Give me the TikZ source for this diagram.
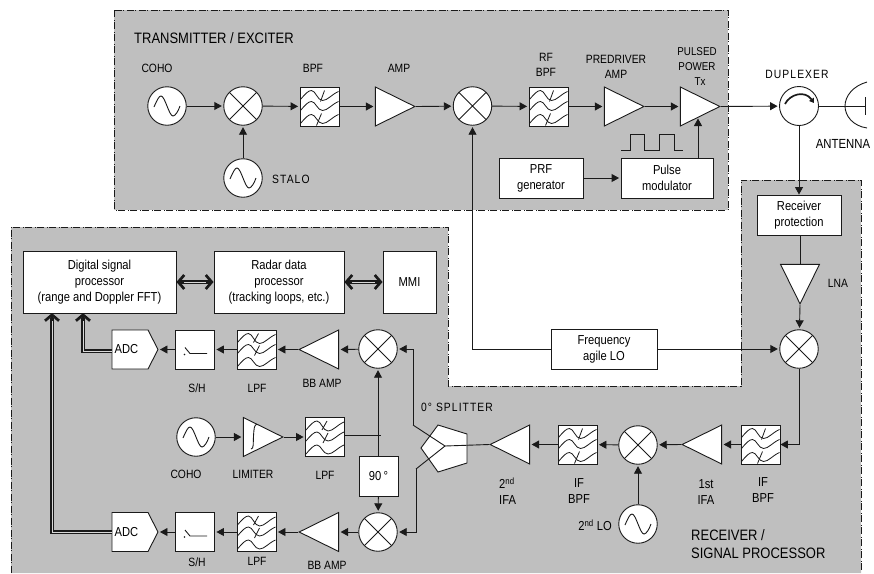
\documentclass[tikz,border=0pt]{standalone}
\usepackage{fontspec}
\setmainfont[FakeStretch=0.86]{Liberation Sans}
\usetikzlibrary{arrows.meta,shapes.geometric,shapes.symbols}
\definecolor{panel}{HTML}{BFBFBF}
\definecolor{ink}{HTML}{1A1A1A}
\tikzset{
  ln/.style={line width=0.9pt,draw=ink},
  arr/.style={ln,-{Triangle[length=7.5pt,width=8pt]},shorten >=1.5pt},
  dbl/.style={draw=ink,line width=1.2pt,double=panel!60!white,double distance=0.7pt},
  barb/.style={draw=ink,line width=2.4pt,-{Straight Barb[length=6pt,width=14pt,line width=2.7pt]}},
  edge panel/.style={draw=ink,line width=1pt,dash pattern=on 7pt off 3pt on 1pt off 1pt},
  box/.style={ln,draw,fill=white,inner sep=0pt,align=center,font=\boxfont},
  mixer/.style={ln,circle,draw,fill=white,minimum size=38.5pt,inner sep=0pt,
    path picture={\draw[ln] (path picture bounding box.north west)--(path picture bounding box.south east)
      (path picture bounding box.north east)--(path picture bounding box.south west);}},
  osc/.style={ln,circle,draw,fill=white,minimum size=38.5pt,inner sep=0pt,
    path picture={\draw[ln,shift={(path picture bounding box.center)}]
      (-13,1) .. controls (-10,-6) and (-8,-10) .. (-6,-10) .. controls (-2,-10) and (2,10) .. (6,10)
      .. controls (8,10) and (11,6) .. (13,0);}},
  circulator/.style={ln,circle,draw,fill=white,minimum size=39pt,inner sep=0pt,
    path picture={\draw[line width=1.7pt,draw=ink,-{Triangle[length=4.5pt,width=5.5pt]},shift={(path picture bounding box.center)}]
      (-14,-2) .. controls (-9,-12) and (6,-16) .. (15,-3);}},
  filterbox/.style={ln,draw,fill=white,minimum size=39pt,inner sep=0pt},
  bpf/.style={filterbox,path picture={\begin{scope}[shift={(path picture bounding box.center)}]
      \wavelines
      \draw[ln,line width=.8pt] (1,-5)--(5,-16) (-3,19)--(2,7);
      \end{scope}}},
  lpf/.style={filterbox,path picture={\begin{scope}[shift={(path picture bounding box.center)}]
      \wavelines
      \draw[ln,line width=.8pt] (-3,-7)--(2,-16) (-2,6)--(3,-4);
      \end{scope}}},
  sh/.style={filterbox,path picture={\begin{scope}[shift={(path picture bounding box.center)}]
      \fill[ink] (-10.5,5) circle (0.9);
      \draw[ln] (-10,-2)--(-5,4)--(12,4);
      \end{scope}}},
  amp/.style={ln,isosceles triangle,isosceles triangle stretches,draw,fill=white,
    minimum width=39pt,minimum height=39.5pt,inner sep=0pt},
  ampe/.style={amp,shape border rotate=0,anchor=apex},
  ampw/.style={amp,shape border rotate=180,anchor=apex},
  amps/.style={amp,shape border rotate=-90,anchor=apex},
  adc/.style={ln,signal,signal to=east,draw,fill=white,minimum width=46pt,minimum height=39pt,
    inner sep=0pt,signal pointer angle=126,font=\boxfont},
  lbl/.style={inner sep=0pt,align=center,font=\lblfont},
  lblr/.style={lbl,font=\rxfont},
  spaced/.style={lbl,font=\spacedfont},
  title/.style={inner sep=0pt,anchor=west,align=left,font=\titlefont},
}
\newcommand{\lblfont}{\fontsize{12}{15.6}\selectfont}
\newcommand{\rxfont}{\fontsize{13}{16}\selectfont}
\newcommand{\boxfont}{\fontsize{13}{16}\selectfont}
\newcommand{\titlefont}{\fontsize{15.1}{18}\selectfont}
\newcommand{\spacedfont}{\fontsize{12}{16}\selectfont\addfontfeature{LetterSpace=9}}
\newcommand{\wavelines}{\draw[ln,line width=.8pt]
  (-19,-7) .. controls (-14,-13) and (-11,-16) .. (-8,-16) .. controls (-4,-16) and (-2,-6) .. (3,-6) .. controls (8,-6) and (12,-12) .. (19,-15)
  (-19,4) .. controls (-14,-2) and (-11,-5) .. (-8,-5) .. controls (-4,-5) and (-2,4) .. (3,4) .. controls (8,4) and (12,-2) .. (19,-5)
  (-19,17) .. controls (-14,11) and (-11,8) .. (-8,8) .. controls (-4,8) and (-2,17) .. (3,17) .. controls (8,17) and (12,11) .. (19,8);}
\begin{document}
\begin{tikzpicture}[x=1pt,y=-1pt]
\useasboundingbox (0,0) rectangle (874,573);
% panels
\fill[panel] (114,10) rectangle (728,210);
\draw[edge panel] (114,10) rectangle (728,210);
\fill[panel] (11,227)--(448,227)--(448,386)--(741,386)--(741,180)--(861,180)--(861,573)--(11,573)--cycle;
\draw[edge panel] (11,573)--(11,227)--(448,227)--(448,386)--(741,386)--(741,180)--(861,180)--(861,573);
% transmitter
\node[osc] (coho1) at (167,106) {};
\node[mixer] (mix1) at (243,106) {};
\node[bpf] (bpf1) at (319.5,106.5) {};
\node[ampe] (amp1) at (416,106.5) {};
\node[mixer] (mix2) at (472.5,106) {};
\node[bpf] (bpf2) at (548.5,106.5) {};
\node[ampe] (amp2) at (645,106.5) {};
\node[ampe] (amp3) at (721,106.5) {};
\node[osc] (stalo) at (243,178) {};
\node[box,minimum width=84pt,minimum height=40pt] (prf) at (541,178) {PRF\\generator};
\node[box,minimum width=92pt,minimum height=40pt] (pmod) at (667,178) {Pulse\\modulator};
\node[circulator] (dup) at (799,106) {};
% antenna
\coordinate (antL) at (845,106);
\coordinate (antF) at (865,106);
\draw[ln] (867,82) .. controls (853,86) and (845,96) .. (antL) .. controls (845,116) and (853,126) .. (867,128);
\draw[ln] (dup.east) -- (antF);
\draw[ln] (865,97)--(865,115);
% pulse wave
\draw[ln] (621,150)--(630,150)--(630,134)--(644,134)--(644,150)--(659,150)--(659,134)--(674,134)--(674,150)--(683,150);
% receiver
\node[box,minimum width=84pt,minimum height=40pt] (prot) at (799,215) {Receiver\\protection};
\node[amps] (lna) at (800,305) {};
\node[mixer] (mix3) at (799,349) {};
\node[box,minimum width=106pt,minimum height=40pt] (lo) at (604,349) {Frequency\\agile LO};
\node[bpf] (ifb1) at (760.5,444.5) {};
\node[ampw] (ifa1) at (681,444.5) {};
\node[mixer] (mix4) at (638,445) {};
\node[bpf] (ifb2) at (577.5,444.5) {};
\node[ampw] (ifa2) at (489,444.5) {};
\node[osc] (lo2) at (638,524) {};
% splitter
\coordinate (sc) at (445,446);
\coordinate (sa) at (413,425);
\coordinate (sb) at (416,469);
\filldraw[ln,fill=white] (421,448)--(438,425)--(467,434)--(467,463)--(438,472)--cycle;
\draw[ln] (sa)--(sc)--(sb);
\draw[ln] (sc)--(ifa2.apex);
% upper I chain
\node[mixer] (mixi) at (378,349) {};
\node[ampw] (bbi) at (298,349.5) {};
\node[lpf] (lpfi) at (256.5,349.5) {};
\node[sh] (shi) at (195,349.5) {};
\node[adc] (adci) at (130,349.5) {ADC\hspace*{7pt}};
% lower Q chain
\node[mixer] (mixq) at (378,532) {};
\node[ampw] (bbq) at (298,532) {};
\node[lpf] (lpfq) at (256.5,532) {};
\node[sh] (shq) at (195,532) {};
\node[adc] (adcq) at (130,532) {ADC\hspace*{7pt}};
% centre
\node[osc] (coho2) at (196,437) {};
\node[ampe] (lim) at (284,437) {};
\node[lpf] (lpfc) at (325,437) {};
\node[box,minimum width=39pt,minimum height=40pt] (ph) at (378.5,476) {90\,°};
\draw[ln] (251,449) .. controls (254,449) and (253,443) .. (253.5,436) .. controls (254,429) and (254,425) .. (257,424);
% processors
\node[box,minimum width=153pt,minimum height=62pt] (dsp) at (99.5,282) {Digital signal\\processor\\(range and Doppler FFT)};
\node[box,minimum width=130pt,minimum height=62pt] (rdp) at (279,282) {Radar data\\processor\\(tracking loops, etc.)};
\node[box,minimum width=53pt,minimum height=62pt] (mmi) at (409.5,282) {MMI};
% connectors
\draw[arr] (coho1)--(mix1);
\draw[arr] (mix1)--(bpf1);
\draw[arr] (bpf1)--(amp1.lower side);
\draw[arr] (amp1.apex)--(mix2);
\draw[arr] (mix2)--(bpf2);
\draw[arr] (bpf2)--(amp2.lower side);
\draw[arr] (amp2.apex)--(amp3.lower side);
\draw[arr] (amp3.apex)--(dup);
\draw[arr] (stalo)--(mix1);
\draw[arr] (prf)--(pmod);
\coordinate (txin) at (698,118.5);
\draw[arr,shorten >=0pt] (pmod.north -| txin)--(txin);
\draw[arr,shorten >=0pt] (dup.south)--(prot.north -| dup.south);
\draw[ln] (prot.south -| lna.apex)--(lna.lower side);
\draw[arr] (lna.apex)--(mix3);
\draw[arr] (lo)--(mix3);
\draw[arr] (lo.west)-|(mix2);
\draw[arr,shorten >=0pt] (mix3.south)|-(ifb1.east);
\draw[arr] (ifb1)--(ifa1.lower side);
\draw[arr] (ifa1.apex)--(mix4);
\draw[arr] (mix4)--(ifb2);
\draw[arr] (ifb2)--(ifa2.lower side);
\draw[arr] (lo2)--(mix4);
\draw[arr] (sa)|-(mixi);
\draw[arr] (sb)|-(mixq);
\draw[arr] (mixi)--(bbi.lower side);
\draw[arr] (bbi.apex)--(lpfi);
\draw[arr] (lpfi)--(shi);
\draw[arr] (shi)--(adci.east);
\draw[arr] (mixq)--(bbq.lower side);
\draw[arr] (bbq.apex)--(lpfq);
\draw[arr] (lpfq)--(shq);
\draw[arr] (shq)--(adcq.east);
\draw[arr] (coho2)--(lim.lower side);
\draw[arr] (lim.apex)--(lpfc);
\coordinate (tap) at (381,435);
\draw[ln] (lpfc.east |- tap)--(tap);
\draw[arr] (ph.north -| mixi)--(mixi);
\draw[arr] (ph)--(mixq);
% double bus connectors
\coordinate (dspa) at (83,313);
\coordinate (dspb) at (52,313);
\draw[dbl] (adci.west |- 0,351)-|([yshift=-5pt]dspa);
\draw[barb] ([yshift=-8pt]dspa)--(dspa);
\draw[dbl] (adcq.west)-|([yshift=-5pt]dspb);
\draw[barb] ([yshift=-8pt]dspb)--(dspb);
\draw[dbl] ([xshift=5pt]dsp.east)--([xshift=-5pt]rdp.west);
\draw[barb] ([xshift=8pt]dsp.east)--(dsp.east);
\draw[barb] ([xshift=-8pt]rdp.west)--(rdp.west);
\draw[dbl] ([xshift=5pt]rdp.east)--([xshift=-5pt]mmi.west);
\draw[barb] ([xshift=8pt]rdp.east)--(rdp.east);
\draw[barb] ([xshift=-8pt]mmi.west)--(mmi.west);
% labels
\node[title] (t1) at (134,38) {TRANSMITTER / EXCITER};
\node[lbl] (l1) at (157,68) {COHO};
\node[lbl] (l2) at (313,68) {BPF};
\node[lbl] (l3) at (399,68) {AMP};
\node[spaced,anchor=west] (l4) at (272,179) {STALO};
\node[lbl] (l5) at (546,65) {RF\\BPF};
\node[lbl] (l6) at (616,67) {PREDRIVER\\AMP};
\node[lbl,font=\fontsize{11.4}{14.6}\selectfont] (l7) at (697,66.5) {PULSED\\POWER\\\hspace*{6pt}Tx};
\node[spaced] (l8) at (797,74) {DUPLEXER};
\node[lbl,font=\fontsize{13.2}{14}\selectfont] (l9) at (843,144) {ANTENNA};
\node[lbl] (l10) at (838,283) {LNA};
\node[lbl] (l11) at (197,388) {S/H};
\node[lbl] (l12) at (257,388) {LPF};
\node[lbl] (l13) at (322,383) {BB AMP};
\node[lbl] (l14) at (186,474) {COHO};
\node[lbl] (l15) at (253,474) {LIMITER};
\node[lbl] (l16) at (325,475) {LPF};
\node[lbl] (l17) at (197,562) {S/H};
\node[lbl] (l18) at (257,561) {LPF};
\node[lbl] (l19) at (327,565) {BB AMP};
\node[spaced] (l20) at (457,407) {0° SPLITTER};
\node[lblr,anchor=west,align=left] (l21) at (499,491.5) {2\textsuperscript{nd}\\IFA};
\node[lblr] (l22) at (579,491) {IF\\BPF};
\node[lblr] (l23) at (595,525) {2\textsuperscript{nd} LO};
\node[lblr] (l24) at (706,492) {1st\\IFA};
\node[lblr] (l25) at (763,490.5) {IF\\BPF};
\node[title] (t2) at (691,544) {RECEIVER /\\SIGNAL PROCESSOR};
\end{tikzpicture}
\end{document}
